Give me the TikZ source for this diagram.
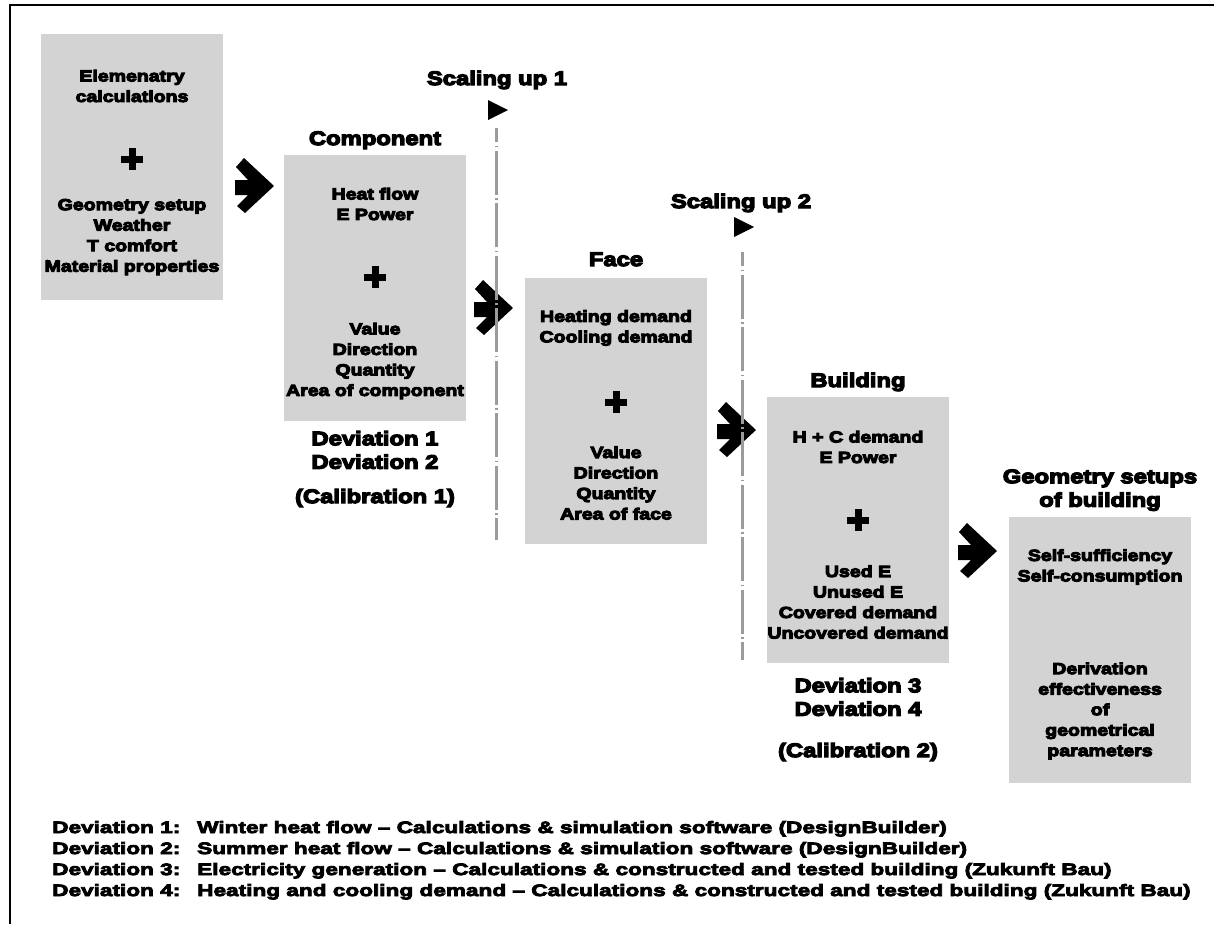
\documentclass[tikz,border=0pt]{standalone}
\usepackage{fontspec}
\setmainfont{Liberation Sans}
\newfontfamily\heavy{Liberation Sans Bold}[FakeStretch=1.22,FakeBold=6.5]
\newfontfamily\heavyleg{Liberation Sans Bold}[FakeStretch=1.37,FakeBold=5]
\usetikzlibrary{calc}
\definecolor{boxgray}{RGB}{211,211,211}
\definecolor{linegray}{RGB}{155,155,155}
\begin{document}
\begin{tikzpicture}[x=1pt,y=-1pt,
  box/.style={fill=boxgray,draw=none,inner sep=0pt,outer sep=0pt,minimum width=182pt,minimum height=266pt},
  txt/.style={font=\heavy\fontsize{16}{20.5}\selectfont,align=center,inner sep=0pt},
  lbl/.style={font=\heavy\fontsize{19.5}{23.5}\selectfont,align=center,inner sep=0pt},
  leg/.style={font=\heavyleg\fontsize{16.5}{20}\selectfont,anchor=base west,inner sep=0pt},
  scaleline/.style={draw=linegray,line width=3pt,dash pattern=on 44pt off 3.5pt on 1.5pt off 3.5pt,dash phase=30pt},
  blockarrow/.pic={\fill[black] (0,0)--(-30,-28)--(-38,-19)--(-26,-6)--(-39,-6)--(-39,9)--(-26,9)--(-37,20)--(-29,27)--cycle;},
  plussign/.pic={\fill[black] (-11,-3.5) rectangle (11,3.5); \fill[black] (-3.5,-11) rectangle (3.5,11);}
]
\useasboundingbox (0,0) rectangle (1215,924);
% partial frame
\draw[line width=1.6pt] (10,924) -- (10,5) -- (1214,5);

% boxes
\node[box] (b1) at (132,167) {};
\node[box] (b2) at (375,288) {};
\node[box] (b3) at (616,411) {};
\node[box] (b4) at (858,530) {};
\node[box] (b5) at (1100,650) {};

% box 1
\node[txt] (b1a) at ($(b1.north)+(0,52)$) {Elemenatry\\calculations};
\pic at ($(b1.north)+(0,125)$) {plussign};
\node[txt] (b1b) at ($(b1.north)+(0,203)$) {Geometry setup\\Weather\\T comfort\\Material properties};

% box 2
\node[txt] (b2a) at ($(b2.north)+(0,49)$) {Heat flow\\E Power};
\pic at ($(b2.north)+(0,122)$) {plussign};
\node[txt] (b2b) at ($(b2.north)+(0,206)$) {Value\\Direction\\Quantity\\Area of component};

% box 3
\node[txt] (b3a) at ($(b3.north)+(0,50)$) {Heating demand\\Cooling demand};
\pic at ($(b3.north)+(0,124)$) {plussign};
\node[txt] (b3b) at ($(b3.north)+(0,205)$) {Value\\Direction\\Quantity\\Area of face};

% box 4
\node[txt] (b4a) at ($(b4.north)+(0,50)$) {H + C demand\\E Power};
\pic at ($(b4.north)+(0,123)$) {plussign};
\node[txt] (b4b) at ($(b4.north)+(0,205)$) {Used E\\Unused E\\Covered demand\\Uncovered demand};

% box 5
\node[txt] (b5a) at ($(b5.north)+(0,50)$) {Self-sufficiency\\Self-consumption};
\node[txt] (b5b) at ($(b5.north)+(0,194)$) {Derivation\\effectiveness\\of\\geometrical\\parameters};

% titles
\node[lbl,anchor=base] (t2) at ($(b2.north)+(0,-10)$) {Component};
\node[lbl,anchor=base] (t3) at ($(b3.north)+(0,-12)$) {Face};
\node[lbl,anchor=base] (t4) at ($(b4.north)+(0,-10)$) {Building};
\node[lbl,anchor=south] (t5) at ($(b5.north)+(0,-6)$) {Geometry setups\\of building};

% deviations / calibrations
\node[lbl] (d2) at ($(b2.south)+(0,29)$) {Deviation 1\\Deviation 2};
\node[lbl] (c2) at ($(b2.south)+(0,77)$) {(Calibration 1)};
\node[lbl] (d4) at ($(b4.south)+(0,34)$) {Deviation 3\\Deviation 4};
\node[lbl] (c4) at ($(b4.south)+(0,89)$) {(Calibration 2)};

% block arrows
\pic at ($(b2.north west)+(-10,31)$) {blockarrow};
\pic at ($(b3.north west)+(-12,30)$) {blockarrow};
\pic at ($(b4.north west)+(-11,33)$) {blockarrow};
\pic at ($(b5.north west)+(-12,34)$) {blockarrow};

% scaling up markers
\node[lbl] (s1) at (497,80) {Scaling up 1};
\node[lbl] (s2) at (741,203) {Scaling up 2};
\coordinate (s1top) at (496,128);
\coordinate (s1bot) at (496,540);
\coordinate (s2top) at (742,252);
\coordinate (s2bot) at (742,660);
\draw[scaleline] (s1top) -- (s1bot);
\draw[scaleline] (s2top) -- (s2bot);
\fill[black] ($(s1top)+(-8,-28)$) -- ($(s1top)+(-8,-8)$) -- ($(s1top)+(12,-18)$) -- cycle;
\fill[black] ($(s2top)+(-8,-35)$) -- ($(s2top)+(-8,-15)$) -- ($(s2top)+(12,-25)$) -- cycle;

% legend
\node[leg] (l1a) at (52,833) {Deviation 1:};
\node[leg] (l1b) at (197,833) {Winter heat flow – Calculations \& simulation software (DesignBuilder)};
\node[leg] (l2a) at (52,854) {Deviation 2:};
\node[leg] (l2b) at (197,854) {Summer heat flow – Calculations \& simulation software (DesignBuilder)};
\node[leg] (l3a) at (52,875) {Deviation 3:};
\node[leg] (l3b) at (197,875) {Electricity generation – Calculations \& constructed and tested building (Zukunft Bau)};
\node[leg] (l4a) at (52,896) {Deviation 4:};
\node[leg] (l4b) at (197,896) {Heating and cooling demand – Calculations \& constructed and tested building (Zukunft Bau)};
\end{tikzpicture}
\end{document}
